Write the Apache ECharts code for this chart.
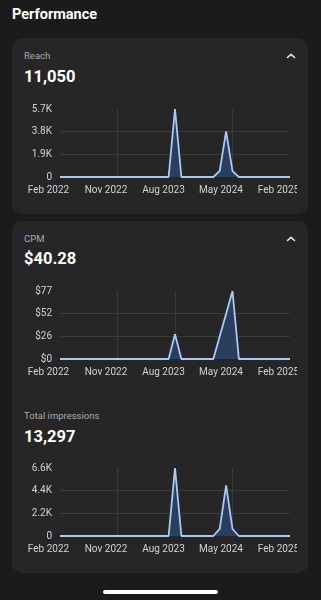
<!DOCTYPE html>
<html>
<head>
<meta charset="utf-8">
<script src="https://cdn.jsdelivr.net/npm/echarts@6/dist/echarts.min.js"></script>
<style>
  html, body { margin: 0; padding: 0; background: #1b1b1b; }
  body { width: 321px; height: 600px; position: relative; overflow: hidden; font-family: Roboto, "Noto Sans", sans-serif; }
  .abs { position: absolute; white-space: nowrap; }
  .title { left: 12px; top: 6px; font-size: 14.5px; line-height: 18px; font-weight: 700; color: #ffffff; }
  .card { position: absolute; left: 12px; width: 296px; background: #262626; border-radius: 10px; }
  .label { left: 24px; font-size: 9.5px; line-height: 12px; color: #a9a9a9; }
  .value { left: 24px; font-size: 16.5px; line-height: 20px; font-weight: 700; color: #ffffff; }
  .chev { position: absolute; left: 286px; width: 10px; height: 6px; }
  .chart { position: absolute; left: 12px; width: 285px; height: 112px; }
  .home { position: absolute; left: 103px; top: 590px; width: 115px; height: 4px; border-radius: 2px; background: #ffffff; }
</style>
</head>
<body>
<div class="abs title">Performance</div>

<div class="card" style="top:38px;height:176px;"></div>
<div class="card" style="top:221px;height:352px;"></div>

<div class="abs label" style="top:50px;">Reach</div>
<div class="abs value" style="top:67px;">11,050</div>
<svg class="chev" style="top:52.5px;" viewBox="0 0 10 6"><polyline points="1.5,4.5 5,1.3 8.5,4.5" fill="none" stroke="#e6e6e6" stroke-width="1.6" stroke-linecap="round" stroke-linejoin="round"/></svg>
<div class="chart" id="c1" style="top:95px;"></div>

<div class="abs label" style="top:233px;">CPM</div>
<div class="abs value" style="top:248.5px;">$40.28</div>
<svg class="chev" style="top:235.5px;" viewBox="0 0 10 6"><polyline points="1.5,4.5 5,1.3 8.5,4.5" fill="none" stroke="#e6e6e6" stroke-width="1.6" stroke-linecap="round" stroke-linejoin="round"/></svg>
<div class="chart" id="c2" style="top:277px;"></div>

<div class="abs label" style="top:410px;">Total impressions</div>
<div class="abs value" style="top:426.5px;">13,297</div>
<div class="chart" id="c3" style="top:454px;"></div>

<div class="home"></div>

<script>
// ---- Data ----
const months = [
  'Feb 2022','Mar 2022','Apr 2022','May 2022','Jun 2022','Jul 2022','Aug 2022','Sep 2022','Oct 2022','Nov 2022','Dec 2022',
  'Jan 2023','Feb 2023','Mar 2023','Apr 2023','May 2023','Jun 2023','Jul 2023','Aug 2023','Sep 2023','Oct 2023','Nov 2023','Dec 2023',
  'Jan 2024','Feb 2024','Mar 2024','Apr 2024','May 2024','Jun 2024','Jul 2024','Aug 2024','Sep 2024','Oct 2024','Nov 2024','Dec 2024',
  'Jan 2025','Feb 2025'
];

const reachValues = [0,0,0,0,0,0,0,0,0,0,0,0,0,0,0,0,0,0,5700,0,0,0,0,0,0,520,3830,500,0,0,0,0,0,0,0,0,0];
const cpmValues = [0,0,0,0,0,0,0,0,0,0,0,0,0,0,0,0,0,0,28,0,0,0,0,0,0,25.7,51.3,77,0,0,0,0,0,0,0,0,0];
const impressionValues = [0,0,0,0,0,0,0,0,0,0,0,0,0,0,0,0,0,0,6580,0,0,0,0,0,0,700,4920,680,0,0,0,0,0,0,0,0,0];

const reachTicks = [0, 1900, 3800, 5700];
const reachTickLabels = ['0', '1.9K', '3.8K', '5.7K'];
const cpmTicks = [0, 25.67, 51.33, 77];
const cpmTickLabels = ['$0', '$26', '$52', '$77'];
const impressionTicks = [0, 2200, 4400, 6600];
const impressionTickLabels = ['0', '2.2K', '4.4K', '6.6K'];

// ---- Chart builder ----
function makeOption(values, ticks, tickLabels) {
  const max = ticks[ticks.length - 1];
  const n = ticks.length - 1;
  const gridColors = ticks.map((t, i) => (i === 0 || i === n) ? 'rgba(0,0,0,0)' : '#3a3a3a');
  return {
    animation: false,
    textStyle: { fontFamily: 'Roboto' },
    grid: { left: 48, right: 7, top: 14, height: 68, containLabel: false, outerBoundsMode: 'none' },
    xAxis: {
      type: 'category',
      data: months,
      boundaryGap: false,
      axisLine: { show: false },
      axisTick: { show: false },
      axisLabel: {
        interval: 8,
        color: '#d2d2d2',
        fontSize: 10,
        margin: 8,
        padding: [0, 23, 0, 0]
      },
      splitLine: {
        show: true,
        interval: function (i) { return i % 9 === 0 && i > 0 && i < months.length - 1; },
        lineStyle: { color: '#3a3a3a', width: 1 }
      }
    },
    yAxis: {
      type: 'value',
      min: 0,
      max: max,
      interval: max / n,
      axisLine: { show: false },
      axisTick: { show: false },
      axisLabel: {
        color: '#d2d2d2',
        fontSize: 10,
        margin: 8,
        formatter: function (v, i) { return tickLabels[i] !== undefined ? tickLabels[i] : ''; }
      },
      splitLine: { show: true, lineStyle: { color: gridColors, width: 1 } }
    },
    series: [{
      type: 'line',
      data: values,
      symbol: 'none',
      lineStyle: { color: '#a9c9fb', width: 1.8 },
      areaStyle: { color: '#2a3f5e', opacity: 1 }
    }]
  };
}

echarts.init(document.getElementById('c1')).setOption(makeOption(reachValues, reachTicks, reachTickLabels));
echarts.init(document.getElementById('c2')).setOption(makeOption(cpmValues, cpmTicks, cpmTickLabels));
echarts.init(document.getElementById('c3')).setOption(makeOption(impressionValues, impressionTicks, impressionTickLabels));
</script>
</body>
</html>
